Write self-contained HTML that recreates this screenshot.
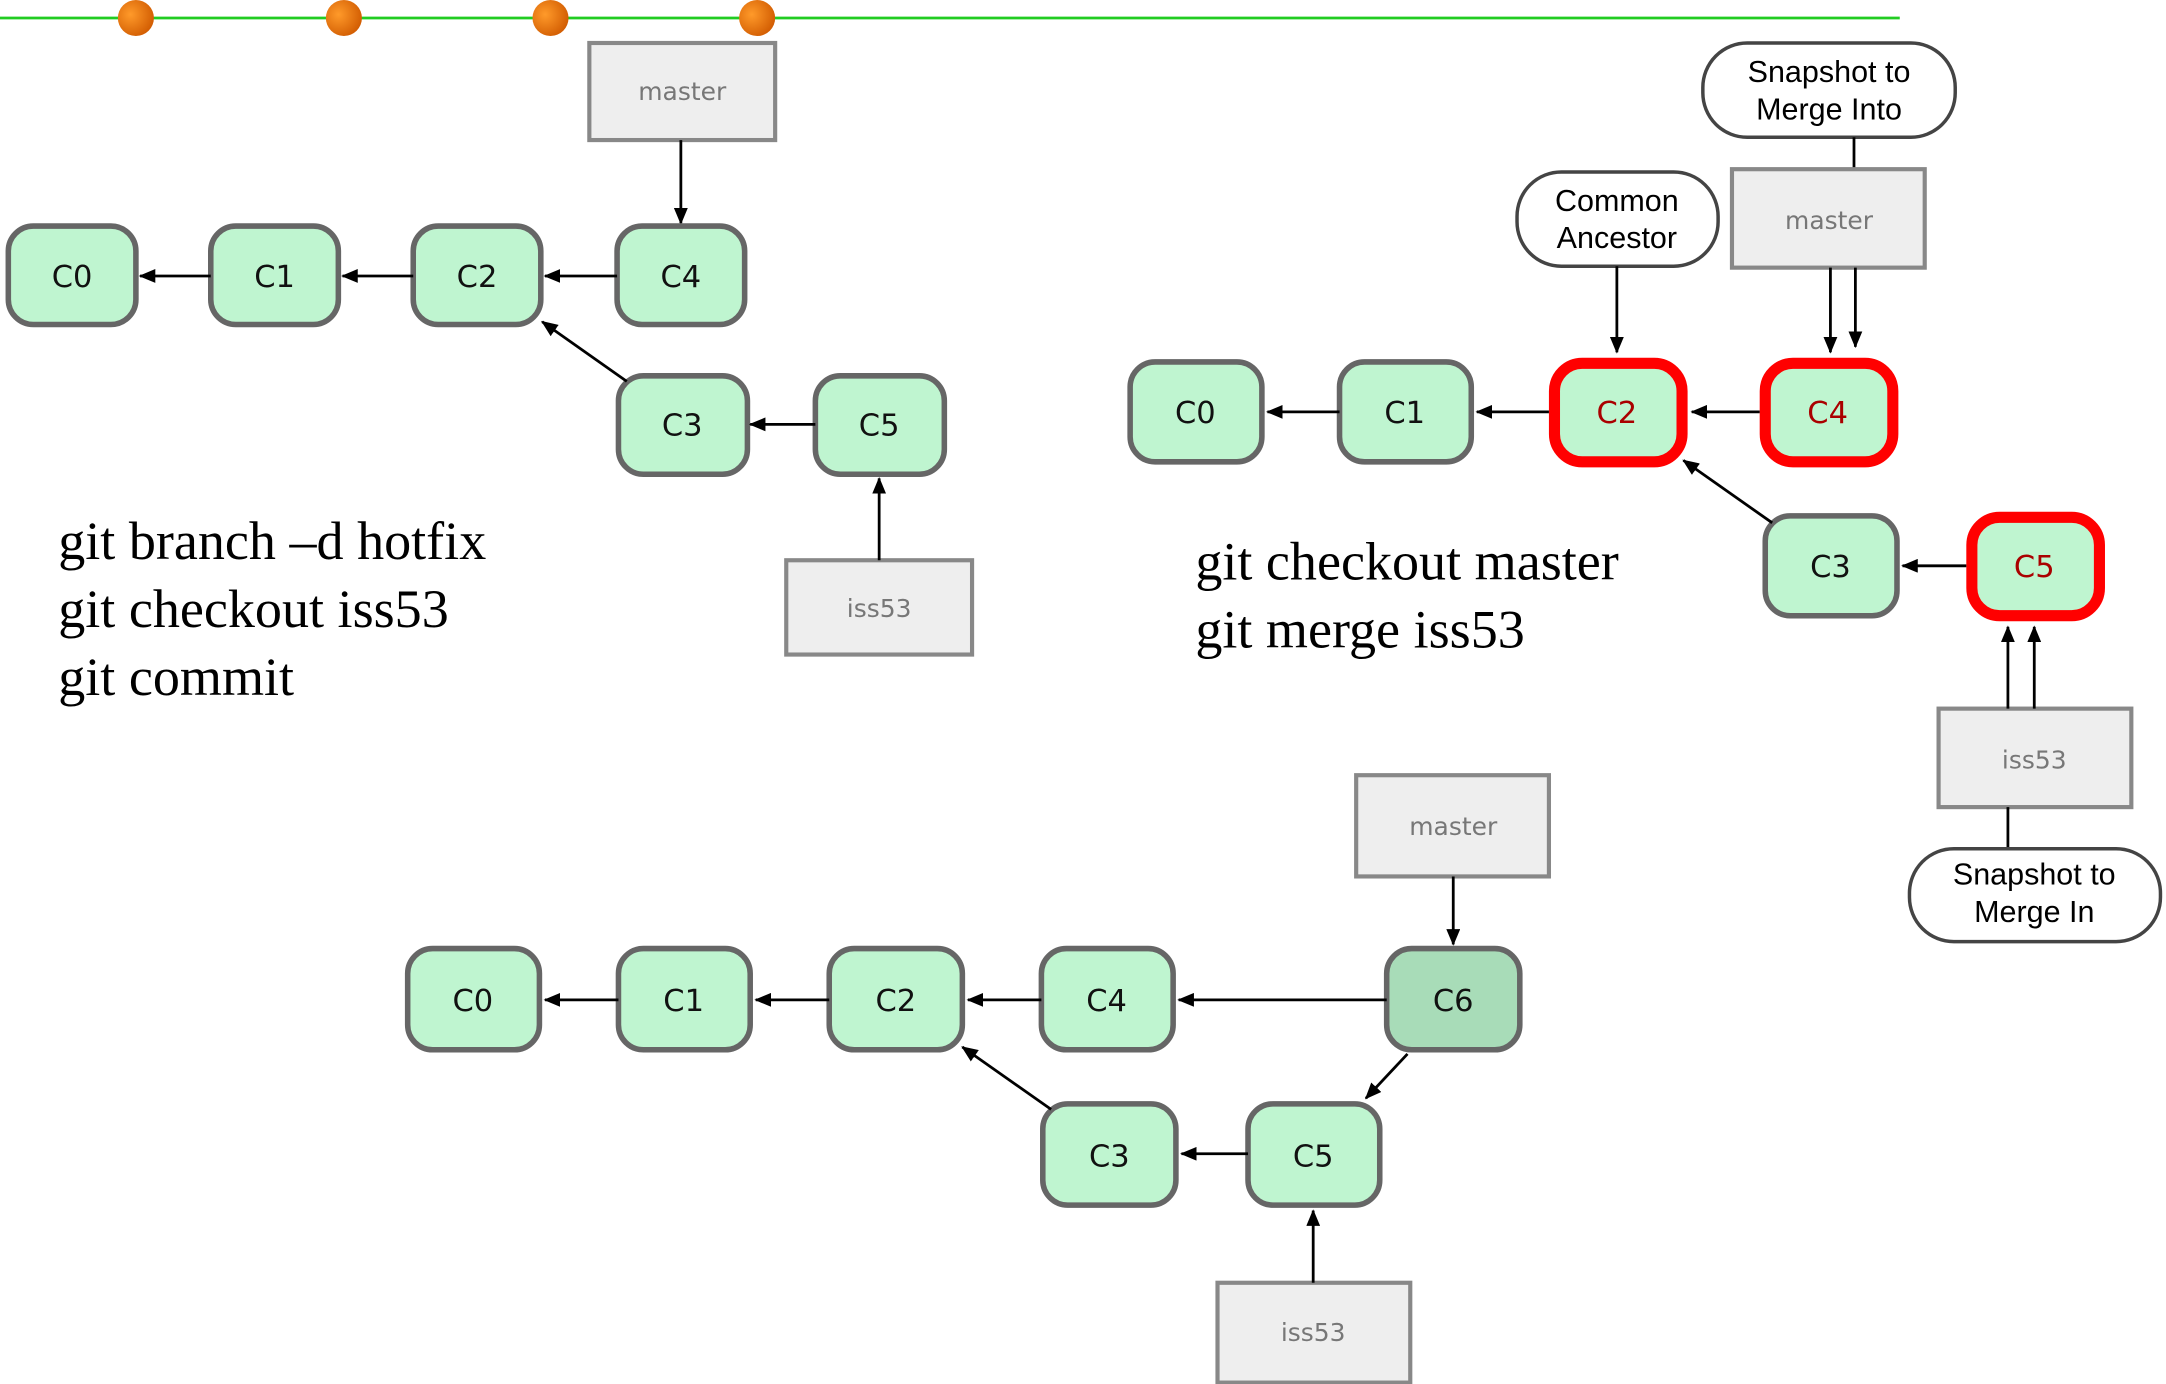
<!DOCTYPE html>
<html><head><meta charset="utf-8"><style>
html,body{margin:0;padding:0;background:#fff;}
svg{display:block;}
.n{fill:#bff5d0;stroke:#666;stroke-width:4;}
.r{fill:#bff5d0;stroke:#f00;stroke-width:8;}
.b{fill:#eee;stroke:#888;stroke-width:3;}
.p{fill:#fff;stroke:#444;stroke-width:2.5;}
.t{font-family:"DejaVu Sans","Liberation Sans",sans-serif;font-size:22px;fill:#111;text-anchor:middle;}
.tr{font-family:"DejaVu Sans","Liberation Sans",sans-serif;font-size:22px;fill:#a00;text-anchor:middle;}
.g{font-family:"DejaVu Sans","Liberation Sans",sans-serif;font-size:18px;fill:#777;text-anchor:middle;}
.s{font-family:"Liberation Sans",sans-serif;font-size:22px;fill:#000;text-anchor:middle;}
.c{font-family:"Liberation Serif",serif;font-size:39px;fill:#000;}
.l{stroke:#000;stroke-width:2;fill:none;}
</style></head><body>
<svg width="2166" height="1384" viewBox="0 0 1562 998" preserveAspectRatio="none" xmlns="http://www.w3.org/2000/svg">
<defs>
<marker id="a" markerWidth="12" markerHeight="10" refX="11" refY="5" orient="auto" markerUnits="userSpaceOnUse">
<path d="M0,0 L12,5 L0,10 z" fill="#000"/></marker>
<radialGradient id="o" cx="0.35" cy="0.4" r="0.7"><stop offset="0" stop-color="#ff9a2a"/><stop offset="1" stop-color="#d05a00"/></radialGradient>
</defs>
<line x1="0" y1="13" x2="1370" y2="13" stroke="#22cc22" stroke-width="2"/>
<ellipse cx="98" cy="13" rx="13" ry="13" fill="url(#o)"/>
<ellipse cx="248" cy="13" rx="13" ry="13" fill="url(#o)"/>
<ellipse cx="397" cy="13" rx="13" ry="13" fill="url(#o)"/>
<ellipse cx="546" cy="13" rx="13" ry="13" fill="url(#o)"/>

<!-- Diagram 1 -->
<rect class="b" x="425" y="31" width="134" height="70"/><text class="g" x="492" y="72">master</text>
<line class="l" x1="491" y1="101" x2="491" y2="161" marker-end="url(#a)"/>
<rect class="n" x="6" y="163" width="92" height="71" rx="18"/><text class="t" x="52" y="207">C0</text>
<rect class="n" x="152" y="163" width="92" height="71" rx="18"/><text class="t" x="198" y="207">C1</text>
<rect class="n" x="298" y="163" width="92" height="71" rx="18"/><text class="t" x="344" y="207">C2</text>
<rect class="n" x="445" y="163" width="92" height="71" rx="18"/><text class="t" x="491" y="207">C4</text>
<rect class="n" x="446" y="271" width="93" height="71" rx="18"/><text class="t" x="492" y="314">C3</text>
<rect class="n" x="588" y="271" width="93" height="71" rx="18"/><text class="t" x="634" y="314">C5</text>
<line class="l" x1="152" y1="199" x2="101" y2="199" marker-end="url(#a)"/>
<line class="l" x1="298" y1="199" x2="247" y2="199" marker-end="url(#a)"/>
<line class="l" x1="445" y1="199" x2="393" y2="199" marker-end="url(#a)"/>
<line class="l" x1="452" y1="275" x2="391" y2="232" marker-end="url(#a)"/>
<line class="l" x1="588" y1="306" x2="541" y2="306" marker-end="url(#a)"/>
<rect class="b" x="567" y="404" width="134" height="68"/><text class="g" x="634" y="445">iss53</text>
<line class="l" x1="634" y1="404" x2="634" y2="345" marker-end="url(#a)"/>
<text class="c" x="42" y="403">git branch –d hotfix</text>
<text class="c" x="42" y="452">git checkout iss53</text>
<text class="c" x="42" y="501">git commit</text>

<!-- Diagram 2 -->
<rect class="p" x="1228" y="31" width="182" height="68" rx="32"/>
<text class="s" x="1319" y="59">Snapshot to</text><text class="s" x="1319" y="86">Merge Into</text>
<line class="l" x1="1337" y1="99" x2="1337" y2="122"/>
<rect class="b" x="1249" y="122" width="139" height="71"/><text class="g" x="1319" y="165">master</text>
<rect class="p" x="1094" y="124" width="145" height="68" rx="32"/>
<text class="s" x="1166" y="152">Common</text><text class="s" x="1166" y="179">Ancestor</text>
<line class="l" x1="1166" y1="192" x2="1166" y2="254" marker-end="url(#a)"/>
<line class="l" x1="1320" y1="193" x2="1320" y2="254" marker-end="url(#a)"/>
<line class="l" x1="1338" y1="193" x2="1338" y2="250" marker-end="url(#a)"/>
<rect class="n" x="815" y="261" width="95" height="72" rx="18"/><text class="t" x="862" y="305">C0</text>
<rect class="n" x="966" y="261" width="95" height="72" rx="18"/><text class="t" x="1013" y="305">C1</text>
<rect class="r" x="1121" y="262" width="92" height="71" rx="20"/><text class="tr" x="1166" y="305">C2</text>
<rect class="r" x="1273" y="262" width="92" height="71" rx="20"/><text class="tr" x="1318" y="305">C4</text>
<rect class="n" x="1273" y="372" width="95" height="72" rx="18"/><text class="t" x="1320" y="416">C3</text>
<rect class="r" x="1422" y="373" width="92" height="71" rx="20"/><text class="tr" x="1467" y="416">C5</text>
<line class="l" x1="966" y1="297" x2="914" y2="297" marker-end="url(#a)"/>
<line class="l" x1="1117" y1="297" x2="1065" y2="297" marker-end="url(#a)"/>
<line class="l" x1="1269" y1="297" x2="1220" y2="297" marker-end="url(#a)"/>
<line class="l" x1="1278" y1="377" x2="1214" y2="332" marker-end="url(#a)"/>
<line class="l" x1="1418" y1="408" x2="1372" y2="408" marker-end="url(#a)"/>
<rect class="b" x="1398" y="511" width="139" height="71"/><text class="g" x="1467" y="554">iss53</text>
<line class="l" x1="1448" y1="511" x2="1448" y2="452" marker-end="url(#a)"/>
<line class="l" x1="1467" y1="511" x2="1467" y2="452" marker-end="url(#a)"/>
<line class="l" x1="1448" y1="582" x2="1448" y2="612"/>
<rect class="p" x="1377" y="612" width="181" height="67" rx="32"/>
<text class="s" x="1467" y="638">Snapshot to</text><text class="s" x="1467" y="665">Merge In</text>
<text class="c" x="862" y="418">git checkout master</text>
<text class="c" x="862" y="467">git merge iss53</text>

<!-- Diagram 3 -->
<rect class="b" x="978" y="559" width="139" height="73"/><text class="g" x="1048" y="602">master</text>
<line class="l" x1="1048" y1="632" x2="1048" y2="681" marker-end="url(#a)"/>
<rect class="n" x="294" y="684" width="95" height="73" rx="18"/><text class="t" x="341" y="729">C0</text>
<rect class="n" x="446" y="684" width="95" height="73" rx="18"/><text class="t" x="493" y="729">C1</text>
<rect class="n" x="598" y="684" width="96" height="73" rx="18"/><text class="t" x="646" y="729">C2</text>
<rect class="n" x="751" y="684" width="95" height="73" rx="18"/><text class="t" x="798" y="729">C4</text>
<rect class="n" x="1000" y="684" width="96" height="73" rx="18" style="fill:#a8dcb8"/><text class="t" x="1048" y="729">C6</text>
<rect class="n" x="752" y="796" width="96" height="73" rx="18"/><text class="t" x="800" y="841">C3</text>
<rect class="n" x="900" y="796" width="95" height="73" rx="18"/><text class="t" x="947" y="841">C5</text>
<line class="l" x1="446" y1="721" x2="393" y2="721" marker-end="url(#a)"/>
<line class="l" x1="598" y1="721" x2="545" y2="721" marker-end="url(#a)"/>
<line class="l" x1="751" y1="721" x2="698" y2="721" marker-end="url(#a)"/>
<line class="l" x1="1000" y1="721" x2="850" y2="721" marker-end="url(#a)"/>
<line class="l" x1="1015" y1="760" x2="985" y2="792" marker-end="url(#a)"/>
<line class="l" x1="758" y1="800" x2="694" y2="755" marker-end="url(#a)"/>
<line class="l" x1="900" y1="832" x2="852" y2="832" marker-end="url(#a)"/>
<rect class="b" x="878" y="925" width="139" height="72"/><text class="g" x="947" y="967">iss53</text>
<line class="l" x1="947" y1="925" x2="947" y2="873" marker-end="url(#a)"/>
</svg>
</body></html>
